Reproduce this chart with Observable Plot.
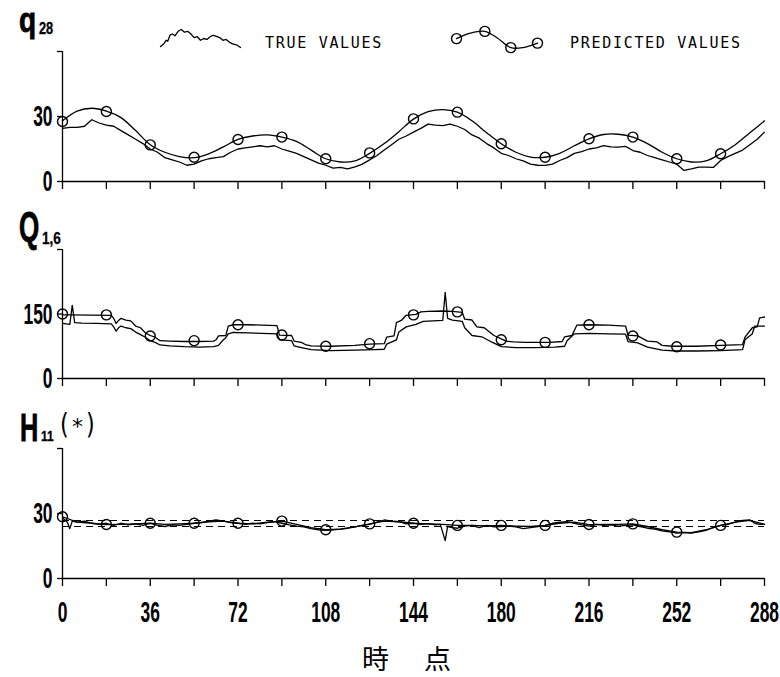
<!DOCTYPE html>
<html><head><meta charset="utf-8">
<script src="https://cdn.jsdelivr.net/npm/d3@7"></script>
<script src="https://cdn.jsdelivr.net/npm/@observablehq/plot@0.6"></script>
<style>
body{margin:0;background:#fff;}
#wrap{position:relative;width:780px;height:677px;overflow:hidden;background:#fff;}
#wrap svg{position:absolute;}
svg.panel g[aria-label="y-axis tick label"], svg.panel g[aria-label="x-axis tick label"]{
  font-family:"Liberation Sans";font-weight:bold;font-size:30px;fill:#000;}
</style></head><body><div id="wrap"></div>
<script>
// ---------- shared axis data ----------
const markTimes = [0,18,36,54,72,90,108,126,144,162,180,198,216,234,252,270];
const xMinorTicks = [0,18,36,54,72,90,108,126,144,162,180,198,216,234,252,270,288];
const xTickLabels = [0,36,72,108,144,180,216,252,288];
const xAxisTitle = ["時", "点"];
const legendLabels = ["TRUE VALUES", "PREDICTED VALUES"];

// ---------- q28 ----------
const q28YTicks = [0,30,60];
const q28YLabels = ["0","30",""];
const q28PredT = [0,6,12,18,24,30,36,42,48,54,60,66,72,78,84,90,96,102,108,114,120,126,132,138,144,150,156,162,168,174,180,186,192,198,204,210,216,222,228,234,240,246,252,258,264,270,276,282,288];
const q28PredV = [28,32.5,33.8,32.5,29.5,23.5,17,13.5,11.5,11,12.8,16,19.4,21,21.5,20.5,18.5,14.5,10.5,9,9.5,13,17.5,23,28.8,32.2,33.2,32,28,22.5,17.4,13.5,11.3,11.2,13,16.5,19.7,21.7,21.8,20.5,17.5,13.5,10.5,9,9.5,12.8,17,22.5,28];
const q28TrueT = [0,3,6,9,12,15,18,21,24,27,30,33,36,39,42,45,48,51,54,57,60,63,66,69,72,75,78,81,84,87,90,93,96,99,102,105,108,111,114,117,120,123,126,129,132,135,138,141,144,147,150,153,156,159,162,165,168,171,174,177,180,183,186,189,192,195,198,201,204,207,210,213,216,219,222,225,228,231,234,237,240,243,246,249,252,255,258,261,264,267,270,273,276,279,282,285,288];
const q28TrueV = [24.5,25,25,25.5,28.5,27,26,25.5,23.5,21.5,19.5,17.5,15,13.5,11,10,9,7.5,8,9.5,10.5,11,11.5,13.5,15,15.5,16,16.5,16,16.5,15,14,13,11.5,10,8.5,7.5,6.2,6.5,5.8,6.8,8,10,12,14.5,17,19.5,21,22.8,24.5,26.5,26,25.8,26.5,25.5,24,21.5,20,17.5,15.5,13,12,10.5,9.5,8,7.5,7.4,8,9.7,11,13,13.8,15,15.5,16.6,16,15.9,16.2,14.3,13.5,12,11,10,9,8,5.1,5.8,6.6,6.6,6.5,9.7,11.5,13,14.5,17,19.5,22.8];
const q28Marks = [27.7,32.3,16.9,11.2,19.4,20.5,10.5,13.2,28.9,32,17.4,11.2,19.7,20.5,10.5,12.8];

// ---------- Q1,6 ----------
const QYTicks = [0,150,300];
const QYLabels = ["0","150",""];
const QPredT = [0,3,20,21,22,23,24,26,28,30,32,34,36,38,40,44,50,56,62,63,64,67,68,70,76,82,88,89,94,95,98,100,102,110,120,126,132,133,136,137,139,141,145,147,150,156,160,164,165,168,170,173,177,180,182,185,190,200,205,206,209,211,216,224,231,232,236,240,244,246,250,260,270,279,280,283,285,286,288];
const QPredV = [148,148,147,140,128,135,140,136,134,122,118,106,100,96,88,87,86,86,87,90,99,100,122,125,125,124,123,101,100,87,84,78,76,75,77,80,81,96,99,130,135,147,149,155,156,157,156,154,138,136,120,118,100,92,87,85,84,84,86,97,100,124,125,124,122,101,99,87,85,77,75,75,77,79,96,118,120,141,143];
const QTrueT = [0,3,4,5,8,14,20,21,22,23,24,26,28,30,32,34,36,38,40,44,50,56,62,64,66,67,68,70,76,82,88,89,94,95,98,102,110,120,128,132,133,137,138,141,145,148,152,156,157,158,160,164,165,168,172,176,180,186,194,202,206,207,210,216,224,231,232,236,240,246,252,260,270,279,280,283,284,288];
const QTrueV = [128,126,170,130,129,128,127,120,110,118,122,118,116,108,102,96,88,84,78,76,74,73,74,77,90,95,104,107,106,105,104,90,88,76,72,67,65,66,67,68,80,90,108,120,126,133,134,135,200,140,136,133,118,100,97,85,74,72,72,73,75,88,104,105,104,103,86,83,73,66,64,64,65,67,90,104,122,122];
const QMarks = [150,148,99,88,125,101,75,81,148,155,90,84,125,99,74,78];

// ---------- H11 ----------
const hYTicks = [0,30,60];
const hYLabels = ["0","30",""];
const hDashed = [26.8, 24.0];
const hPredT = [0,6,12,18,24,30,36,42,48,54,60,66,72,78,84,90,96,102,108,114,120,126,132,138,144,150,156,162,168,174,180,186,192,198,204,210,216,222,228,234,240,246,252,258,264,270,276,282,288];
const hPredV = [28.5,26,25.5,24.9,25,25.2,25.5,25,25.2,25.5,26.2,26.5,25.5,25.2,26,26.5,25,23.5,22.5,22.8,23.8,25.2,26.5,26.2,25.5,25.2,25,24.5,24.5,24.3,24.5,24.2,24,24.5,25.5,26,24.9,25,25,25.2,24,22.5,21.4,21.2,22.5,24.5,26,26.8,25];
const hTrueT = [0,2,3,4,6,9,12,15,18,21,24,27,30,33,36,39,42,45,48,51,54,57,60,63,66,69,72,75,78,81,84,87,90,93,96,99,102,105,108,111,114,117,120,123,126,129,132,135,138,141,144,147,150,153,155,157,158,160,162,165,168,171,174,177,180,183,186,189,192,195,198,201,204,207,210,213,216,219,222,225,228,231,234,237,240,243,246,249,252,255,258,261,264,267,270,273,276,279,282,284,286,288];
const hTrueV = [28,26,23,26.5,26,26.5,25.5,25,25.5,24.5,25.5,24.8,25.2,24.5,25.5,24.5,24,24.8,24.5,25,25.5,25.8,26.5,27,26.5,25.8,25.5,25,25.5,25.2,25.8,26.2,25.5,24.8,24.2,23.8,23,22.5,22.2,22.5,22.8,23.2,23.8,24.5,25,26,27,26.5,26.2,25.2,25.5,25,25.3,24.8,25,17.5,24,23.5,23.2,24.2,24.5,23.5,24.5,23.8,24,24.2,23.8,23,23.5,24,24.5,25.5,26,26.2,25.5,24.8,24.2,25,24.5,24.8,24.2,24.5,24.8,24,23.2,22.8,22,21.5,21,21.2,21,21.5,22.2,23.5,24.5,25,26,26.8,27,25.5,25,25];
const hMarks = [28.5,24.9,25.5,25.5,25.5,26.5,22.5,25.2,25.5,24.5,24.5,24.5,24.9,25.2,21.4,24.5];

// ---------- legend glyph shapes (normalized) ----------
const legTrueX = [0,0.04,0.07,0.09,0.12,0.15,0.18,0.22,0.26,0.3,0.34,0.38,0.42,0.46,0.5,0.54,0.58,0.62,0.66,0.7,0.74,0.78,0.82,0.86,0.9,0.95,1];
const legTrueY = [0.05,0.2,0.4,0.35,0.7,0.75,0.65,0.9,1,0.85,0.9,0.75,0.55,0.6,0.4,0.5,0.45,0.6,0.68,0.62,0.55,0.4,0.45,0.3,0.2,0.15,0];
const legPredX = [0,0.17,0.35,0.5,0.67,0.82,1];
const legPredY = [0.55,0.85,0.95,0.6,0.05,0.05,0.3];
const legPredMarkIdx = [0,2,4,6];

// ---------- helpers ----------
const zip = (T, V) => T.map((t, i) => ({t, v: V[i]}));
const wrap = document.getElementById("wrap");

// horizontally condense text by appending a scale to its transform
function squeeze(nodes, k) {
  nodes.forEach(n => {
    if (!n.textContent) return;
    let tr = n.getAttribute("transform");
    if (!tr) {
      const x = +n.getAttribute("x") || 0, y = +n.getAttribute("y") || 0;
      n.setAttribute("x", 0); n.setAttribute("y", 0);
      tr = `translate(${x},${y})`;
    }
    n.setAttribute("transform", `${tr} scale(${k},1)`);
  });
}

function panel({top, height, marginTop, marginBottom, yDomain, yTicks, yLabels, trueData, predData, predCurve, marks, extra, xLabels}) {
  const lab = new Map(yTicks.map((d, i) => [d, yLabels[i]]));
  const svg = Plot.plot({
    width: 780, height, marginLeft: 62, marginRight: 16, marginTop, marginBottom,
    style: {background: "transparent", color: "#000", overflow: "visible"},
    x: {domain: [0, 288], label: null},
    y: {domain: yDomain, label: null},
    marks: [
      ...(extra || []),
      Plot.ruleX([0], {stroke: "#000", strokeWidth: 1.3}),
      Plot.ruleY([0], {stroke: "#000", strokeWidth: 1.3}),
      Plot.axisY({ticks: yTicks, tickSize: 5, tickPadding: 5, tickFormat: d => lab.get(d), label: null, strokeWidth: 1.3}),
      Plot.axisX({ticks: xMinorTicks, tickSize: 8, tickFormat: () => "", label: null, strokeWidth: 1.3}),
      ...(xLabels ? [Plot.axisX({ticks: xTickLabels, tickSize: 0, tickPadding: 22, tickFormat: d => String(d), label: null})] : []),
      Plot.line(trueData, {x: "t", y: "v", stroke: "#000", strokeWidth: 1.3}),
      Plot.line(predData, {x: "t", y: "v", stroke: "#000", strokeWidth: 1.3, curve: predCurve}),
      Plot.dot(marks, {x: "t", y: "v", r: 5, stroke: "#000", strokeWidth: 1.4, fill: "none"})
    ]
  });
  svg.classList.add("panel");
  svg.style.left = "0px";
  svg.style.top = top + "px";
  wrap.appendChild(svg);
  squeeze(svg.querySelectorAll('g[aria-label="y-axis tick label"] text, g[aria-label="x-axis tick label"] text'), 0.58);
  return svg;
}

panel({top: 0, height: 200, marginTop: 51, marginBottom: 19, yDomain: [0, 60],
  yTicks: q28YTicks, yLabels: q28YLabels,
  trueData: zip(q28TrueT, q28TrueV), predData: zip(q28PredT, q28PredV), predCurve: "catmull-rom",
  marks: zip(markTimes, q28Marks)});

panel({top: 200, height: 200, marginTop: 49, marginBottom: 22, yDomain: [0, 300],
  yTicks: QYTicks, yLabels: QYLabels,
  trueData: zip(QTrueT, QTrueV), predData: zip(QPredT, QPredV), predCurve: "linear",
  marks: zip(markTimes, QMarks)});

panel({top: 400, height: 277, marginTop: 48, marginBottom: 99, yDomain: [0, 60],
  yTicks: hYTicks, yLabels: hYLabels,
  trueData: zip(hTrueT, hTrueV), predData: zip(hPredT, hPredV), predCurve: "linear",
  marks: zip(markTimes, hMarks), xLabels: true,
  extra: [Plot.ruleY(hDashed, {stroke: "#000", strokeWidth: 1.1, strokeDasharray: "7,5"})]});

// ---------- legend glyphs ----------
function glyph(left, top, w, h, m, data, markData) {
  const svg = Plot.plot({
    width: w, height: h, margin: m,
    style: {background: "transparent", overflow: "visible"},
    x: {domain: [0, 1], axis: null}, y: {domain: [0, 1], axis: null},
    marks: [
      Plot.line(data, {x: "x", y: "y", stroke: "#000", strokeWidth: 1.3, curve: markData ? "catmull-rom" : "linear"}),
      ...(markData ? [Plot.dot(markData, {x: "x", y: "y", r: 5, stroke: "#000", strokeWidth: 1.4, fill: "none"})] : [])
    ]
  });
  svg.style.left = left + "px"; svg.style.top = top + "px";
  wrap.appendChild(svg);
}
const legTrue = legTrueX.map((x, i) => ({x, y: legTrueY[i]}));
const legPred = legPredX.map((x, i) => ({x, y: legPredY[i]}));
glyph(158, 27, 84, 22, 2, legTrue, null);
glyph(450, 24, 93, 30, 6, legPred, legPredMarkIdx.map(i => legPred[i]));

// ---------- titles & labels overlay ----------
const ov = d3.select(wrap).append("svg").attr("width", 780).attr("height", 677)
  .style("left", "0px").style("top", "0px");
function txt(s, x, y, size, family, weight, k, opts = {}) {
  const t = ov.append("text").attr("x", x).attr("y", y).text(s)
    .attr("font-family", family).attr("font-size", size).attr("font-weight", weight).attr("fill", "#000");
  if (opts.ls) t.attr("letter-spacing", opts.ls);
  if (opts.stroke) t.attr("stroke", "#000").attr("stroke-width", opts.stroke);
  if (k && k !== 1) squeeze([t.node()], k);
  return t;
}
const SANS = "Liberation Sans";
txt("q", 19, 32, 35, SANS, "bold", 0.8, {stroke: 0.8});
txt("28", 39, 34, 16, SANS, "bold", 0.8, {stroke: 0.3});
txt("Q", 19, 241, 42, SANS, "bold", 0.62, {stroke: 0.8});
txt("1,6", 42, 244, 17, SANS, "bold", 0.8, {stroke: 0.3});
txt("H", 20, 441, 39, SANS, "bold", 0.65, {stroke: 0.8});
txt("11", 41, 441, 15, SANS, "bold", 0.8, {stroke: 0.3});
txt("(", 60, 434, 28, "DejaVu Sans", "normal", 0.8);
txt("*", 72, 434, 22, "DejaVu Sans", "normal", 1);
txt(")", 86, 434, 28, "DejaVu Sans", "normal", 0.8);
txt(legendLabels[0], 265, 48, 15, "DejaVu Sans Mono", "normal", 1, {ls: 1.7});
txt(legendLabels[1], 570, 48, 15, "DejaVu Sans Mono", "normal", 1, {ls: 1.7});
txt(xAxisTitle[0], 362, 669, 27, "Noto Sans CJK JP", "normal", 1);
txt(xAxisTitle[1], 424, 669, 27, "Noto Sans CJK JP", "normal", 1);
</script></body></html>
